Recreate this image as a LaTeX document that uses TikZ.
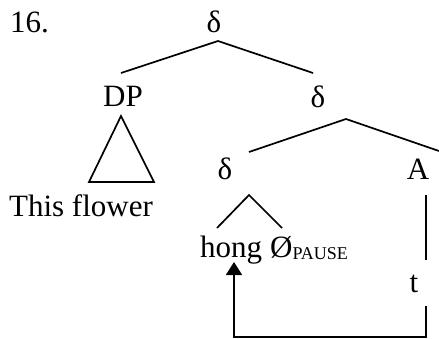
\documentclass[tikz,border=0pt]{standalone}
\usepackage{fontspec}
\setmainfont{Liberation Serif}
\usetikzlibrary{calc,arrows.meta}
\def\smallcaps{\fontsize{18}{18}\selectfont}

\begin{document}
\begin{tikzpicture}[x=1pt,y=-1pt,
		font=\fontsize{31}{37}\selectfont,
		lbl/.style={inner sep=0pt,anchor=base},
		branch/.style={line width=1.7pt},
		move/.style={line width=1.7pt,-{Triangle[length=13pt,width=16pt]}}]
					\useasboundingbox (0,0) rectangle (439,339);
					
					\node[lbl,anchor=base west] (num) at (10,33) {16.};
					\node[lbl] (root) at (214,33) {δ};
					\node[lbl] (dp) at (123,107) {DP};
					\node[lbl] (dm) at (318,108) {δ};
					\node[lbl] (dl) at (225,180) {δ};
					\node[lbl] (a) at (418,180) {A};
					\node[lbl] (flower) at (81,217) {This flower};
					\node[lbl] (hong) at (231,257) {hong};
					\node[lbl,anchor=base west] (pause) at (270,257) {Ø\raisebox{-2pt}{\smallcaps PAUSE}};
					\node[lbl] (t) at (414,292) {t};
					
					%branches
					\draw[branch] ($(dp.base)+(-2,-34)$) -- ($(root.base)+(4,8)$) -- ($(dm.base)+(-5,-35)$);
					\draw[branch] ($(dl.base)+(24,-28)$) -- ($(dm.base)+(28,11)$) -- ($(a.base)+(21,-29)$);
					\draw[branch] ($(hong.base)+(-14,-29)$) -- ($(dl.base)+(24,15)$) -- ($(pause.base west)+(12,-29)$);
					\draw[branch] ($(a.base)+(8,15)$) -- ($(t.base)+(12,-32)$);
					
					%triangle over the DP
					\draw[branch,line join=miter] ($(flower.base)+(8,-35)$) -- ($(dp.base)+(-2,9)$) -- ($(flower.base)+(73,-35)$) -- cycle;
					
					%movement of t
					\draw[move] ($(t.base)+(12,14)$) -- ++(0,31) -| ($(hong.base)+(3,5)$);
				\end{tikzpicture}
\end{document}
